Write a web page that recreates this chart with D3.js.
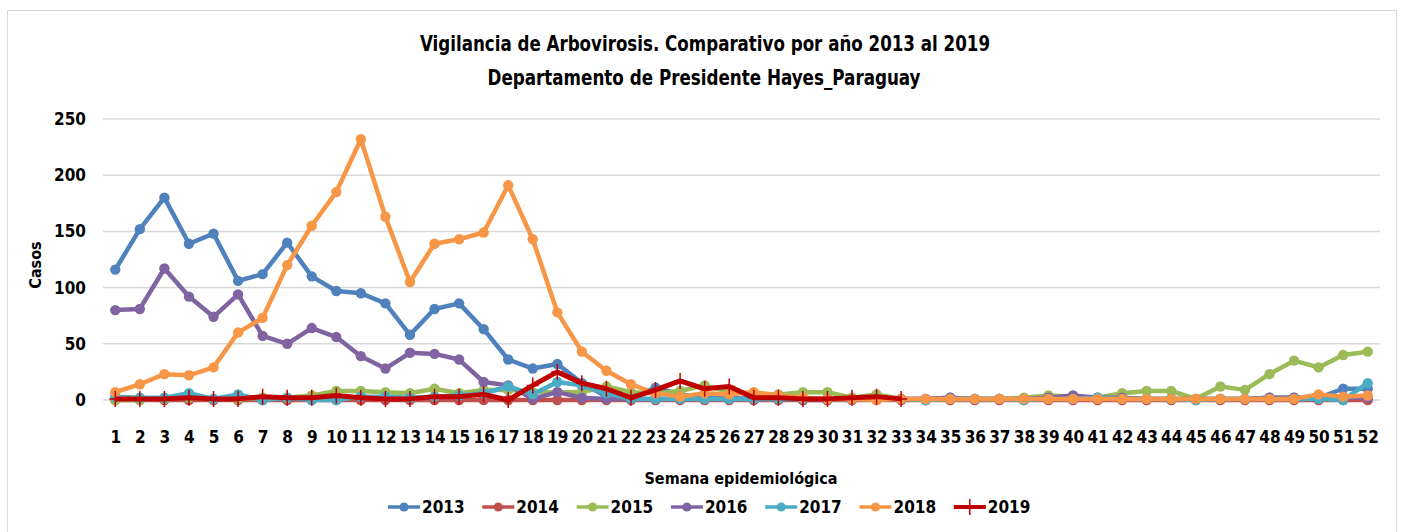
<!DOCTYPE html>
<html><head><meta charset="utf-8">
<script src="https://cdn.jsdelivr.net/npm/d3@7"></script>
<style>
body{margin:0;background:#fff;}
text{font-family:"Liberation Sans Narrow","DejaVu Sans Condensed","Arial Narrow",sans-serif;font-weight:bold;fill:#000;}
</style></head>
<body>
<svg id="c" width="1402" height="532"></svg>
<script>
const weeks = d3.range(1, 53);
const years = ["2013","2014","2015","2016","2017","2018","2019"];
const colors = ["#4F81BD","#C0504D","#9BBB59","#8064A2","#4BACC6","#F79646","#C00000"];
const yTicks = [0,50,100,150,200,250];
const s2013 = [116,152,180,139,148,106,112,140,110,97,95,86,58,81,86,63,36,28,32,15,3,2,11,5,2,2,1,1,0,0,1,1,1,1,2,1,1,1,2,2,1,1,1,1,1,1,1,2,2,2,10,10];
const s2014 = [0,0,0,0,0,0,0,0,0,0,0,0,0,0,0,0,0,0,0,0,0,0,0,0,0,0,0,0,0,0,0,0,0,0,0,0,0,0,0,0,0,0,0,0,0,0,0,0,0,0,0,0];
const s2015 = [0,0,1,2,1,1,2,2,4,8,8,7,6,10,6,9,9,7,7,7,12,7,6,8,13,7,6,5,7,7,2,5,1,0,1,1,1,2,4,3,2,6,8,8,1,12,9,23,35,29,40,43];
const s2016 = [80,81,117,92,74,94,57,50,64,56,39,28,42,41,36,16,13,1,7,2,1,1,1,1,1,1,1,1,1,1,1,1,1,1,2,1,1,1,2,4,2,2,1,1,1,1,1,2,2,2,2,2];
const s2017 = [3,2,2,6,1,5,0,2,0,0,3,3,2,3,4,6,12,5,16,13,6,1,1,1,1,1,1,1,1,1,1,1,1,0,1,1,1,0,1,1,2,1,1,1,0,1,1,1,1,1,0,15];
const s2018 = [7,14,23,22,29,60,73,120,155,185,232,163,105,139,143,149,191,143,78,43,26,14,6,3,6,5,7,4,2,1,1,0,1,1,1,1,1,1,1,1,1,1,1,1,1,1,1,1,1,5,3,4];
const s2019 = [1,1,1,2,1,1,3,2,2,4,2,1,1,3,3,5,0,13,25,15,10,2,9,17,10,12,2,2,1,1,2,3,1];
const seriesVals = [s2013,s2014,s2015,s2016,s2017,s2018,s2019];

const svg = d3.select("#c");
svg.append("rect").attr("x",7.5).attr("y",10.5).attr("width",1389).attr("height",530)
  .attr("fill","#fff").attr("stroke","#d9d9d9").attr("stroke-width",1);

const x = d3.scalePoint().domain(weeks).range([103,1380]).padding(0.5);
const y = d3.scaleLinear().domain([0,250]).range([400,119]);

// grid
svg.append("g").selectAll("line").data(yTicks).join("line")
  .attr("x1",103).attr("x2",1380).attr("y1",d=>y(d)).attr("y2",d=>y(d))
  .attr("stroke","#d9d9d9").attr("stroke-width",1.5);

// y axis labels
const ya = svg.append("g").attr("transform","translate(103,0)")
  .call(d3.axisLeft(y).tickValues(yTicks).tickSize(0).tickPadding(17));
ya.select(".domain").remove();
ya.selectAll("text").style("font-size","17px");

// x axis labels
const xa = svg.append("g").attr("transform","translate(0,400)")
  .call(d3.axisBottom(x).tickSize(0).tickPadding(31));
xa.select(".domain").remove();
xa.selectAll("text").style("font-size","17px");

const line = d3.line().x((d,i)=>x(weeks[i])).y(d=>y(d));
years.forEach((yr,k)=>{
  const vals = seriesVals[k];
  const g = svg.append("g");
  g.append("path").datum(vals).attr("d",line).attr("fill","none")
    .attr("stroke",colors[k]).attr("stroke-width",k===6?5:4.5).attr("stroke-linejoin","round");
  if (k<6) {
    g.selectAll("circle").data(vals).join("circle")
      .attr("cx",(d,i)=>x(weeks[i])).attr("cy",d=>y(d)).attr("r",5.2).attr("fill",colors[k]);
  } else {
    g.selectAll("path.m").data(vals).join("path").attr("class","m")
      .attr("d",(d,i)=>{const cx=x(weeks[i]),cy=y(d);return `M${cx},${cy-8}V${cy+8}M${cx-6},${cy}H${cx+6}`;})
      .attr("stroke",colors[k]).attr("stroke-width",1.5);
  }
});

// titles
svg.append("text").attr("x",705).attr("y",51).attr("text-anchor","middle").style("font-size","21px")
  .attr("textLength",570).attr("lengthAdjust","spacingAndGlyphs")
  .text("Vigilancia de Arbovirosis. Comparativo por año 2013 al 2019");
svg.append("text").attr("x",704).attr("y",85).attr("text-anchor","middle").style("font-size","21px")
  .attr("textLength",433).attr("lengthAdjust","spacingAndGlyphs")
  .text("Departamento de Presidente Hayes_Paraguay");
svg.append("text").attr("transform","translate(41,265) rotate(-90)").attr("text-anchor","middle")
  .style("font-size","16px").text("Casos");
svg.append("text").attr("x",741).attr("y",484).attr("text-anchor","middle").style("font-size","16px")
  .text("Semana epidemiológica");

// legend
const lg = svg.append("g");
years.forEach((yr,k)=>{
  const lx = 388 + k*94.3, ly = 507;
  lg.append("line").attr("x1",lx).attr("x2",lx+32).attr("y1",ly).attr("y2",ly)
    .attr("stroke",colors[k]).attr("stroke-width",k===6?4:3.5);
  if (k<6) lg.append("circle").attr("cx",lx+16).attr("cy",ly).attr("r",4.5).attr("fill",colors[k]);
  else lg.append("path").attr("d",`M${lx+16},${ly-8}V${ly+8}`).attr("stroke",colors[k]).attr("stroke-width",1.5);
  lg.append("text").attr("x",lx+34).attr("y",ly+6).style("font-size","17px").text(yr);
});
</script>
</body></html>
